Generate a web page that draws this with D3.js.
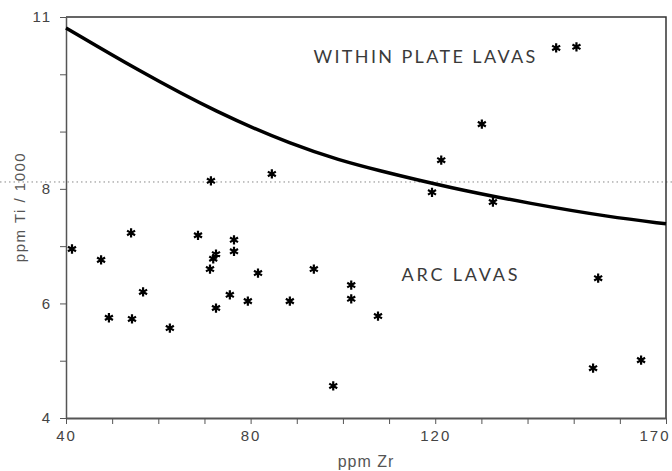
<!DOCTYPE html>
<html>
<head>
<meta charset="utf-8">
<script src="https://cdn.jsdelivr.net/npm/d3@7"></script>
<style>
  body { margin: 0; background: #fff; }
  svg { display: block; }
  .axis path, .axis line { stroke: #555; }
  .axis text { fill: #444; font-family: 'Liberation Sans', Arial, sans-serif; font-size: 15px; letter-spacing: 2px; }
  .label { fill: #555; font-family: 'Liberation Sans', Arial, sans-serif; }
  .field { fill: #3a3a3a; font-family: 'Lato', 'Open Sans', sans-serif; font-size: 18px; }
</style>
</head>
<body>
<div id="chart"></div>
<script>
// Samples
const zr = [41.3, 47.6, 49.3, 54.1, 54.3, 56.7, 62.5, 68.6, 71.4, 72.5, 71.9, 71.2, 76.4, 76.4,
  72.5, 75.5, 79.4, 81.6, 84.6, 88.5, 93.7, 97.9, 101.8, 101.8, 107.6, 119.3, 121.3, 130.1,
  132.5, 146.2, 150.6, 155.3, 154.2, 164.6];
const ti = [6.95, 6.76, 5.75, 7.23, 5.73, 6.2, 5.57, 7.19, 8.14, 6.86, 6.78, 6.6, 7.11, 6.91,
  5.92, 6.15, 6.04, 6.53, 8.26, 6.04, 6.6, 4.56, 6.32, 6.08, 5.78, 7.94, 8.5, 9.13,
  7.77, 10.46, 10.48, 6.44, 4.87, 5.01];

// Discriminant boundary between arc and within plate lavas
const boundaryZr = [40, 55.6, 72.7, 89.6, 99.4, 106.7, 123.6, 140.8, 157.7, 170];
const boundaryTi = [10.81, 10.07, 9.33, 8.75, 8.5, 8.34, 8.01, 7.74, 7.51, 7.39];

const refTi = 8.12; // dotted guide line
const xLabels = [40, 80, 120, 170];
const yLabels = [4, 6, 8, 11];

const margin = { top: 17, right: 6, bottom: 53, left: 66 };
const width = 672 - margin.left - margin.right;
const height = 471 - margin.top - margin.bottom;

const svg = d3.select('#chart')
  .append('svg')
  .attr('width', width + margin.left + margin.right)
  .attr('height', height + margin.top + margin.bottom);

const group = svg.append('g')
  .attr('transform', 'translate(' + margin.left + ',' + margin.top + ')');

const xScale = d3.scaleLinear().domain([40, 170]).range([0, width]);
const yScale = d3.scaleLinear().domain([4, 11]).range([height, 0]);

// dotted guide across the whole picture
group.append('line')
  .attr('x1', -margin.left)
  .attr('x2', width + margin.right)
  .attr('y1', yScale(refTi))
  .attr('y2', yScale(refTi))
  .attr('stroke', '#888')
  .attr('stroke-width', 1)
  .attr('stroke-dasharray', '1.5 3');

// frame (top and right)
group.append('path')
  .attr('d', 'M0,0H' + width + 'V' + height)
  .attr('fill', 'none')
  .attr('stroke', '#333')
  .attr('stroke-width', 1.5);

// axes
const xAxis = d3.axisBottom(xScale)
  .tickValues(d3.range(40, 171, 10))
  .tickSize(6)
  .tickSizeOuter(0)
  .tickPadding(6)
  .tickFormat((d) => (xLabels.includes(d) ? d : ''));

const xAxisGroup = group.append('g')
  .attr('class', 'x-axis axis')
  .attr('transform', 'translate(0,' + height + ')')
  .call(xAxis);
xAxisGroup.select('.domain').attr('stroke-width', 2).attr('stroke', '#777');
xAxisGroup.selectAll('.tick text')
  .filter((d) => d === 170)
  .attr('text-anchor', 'end')
  .attr('dx', 4);

const yAxis = d3.axisLeft(yScale)
  .tickValues(d3.range(4, 12, 1))
  .tickSize(6)
  .tickSizeOuter(0)
  .tickPadding(8)
  .tickFormat((d) => (yLabels.includes(d) ? d : ''));

const yAxisGroup = group.append('g')
  .attr('class', 'y-axis axis')
  .call(yAxis);
yAxisGroup.select('.domain').attr('stroke-width', 1.5).attr('stroke', '#333');

// boundary curve
const boundary = boundaryZr.map((z, i) => ({ zr: z, ti: boundaryTi[i] }));
const line = d3.line()
  .x((d) => xScale(d.zr))
  .y((d) => yScale(d.ti))
  .curve(d3.curveBasis);

group.append('path')
  .datum(boundary)
  .attr('fill', 'none')
  .attr('stroke', '#000')
  .attr('stroke-width', 3.5)
  .attr('d', line);

// samples
const samples = zr.map((z, i) => ({ zr: z, ti: ti[i] }));
const star = d3.symbol().type(d3.symbolAsterisk).size(60);

group.selectAll('.sample')
  .data(samples)
  .enter()
  .append('path')
  .attr('class', 'sample')
  .attr('d', star)
  .attr('transform', (d) => 'translate(' + xScale(d.zr) + ',' + yScale(d.ti) + ')')
  .attr('fill', 'none')
  .attr('stroke', '#000')
  .attr('stroke-width', 2.2);

// field names
group.append('text')
  .attr('class', 'field')
  .attr('x', xScale(93.6))
  .attr('y', yScale(10.2))
  .attr('textLength', 222)
  .attr('lengthAdjust', 'spacing')
  .text('WITHIN PLATE LAVAS');

group.append('text')
  .attr('class', 'field')
  .attr('x', xScale(112.7))
  .attr('y', yScale(6.4))
  .attr('textLength', 116)
  .attr('lengthAdjust', 'spacing')
  .text('ARC LAVAS');

// axis titles
svg.append('text')
  .attr('class', 'label')
  .attr('x', margin.left + width / 2)
  .attr('y', 467)
  .attr('text-anchor', 'middle')
  .attr('font-size', 16)
  .attr('letter-spacing', 1)
  .text('ppm Zr');

svg.append('text')
  .attr('class', 'label')
  .attr('transform', 'translate(25,207) rotate(-90)')
  .attr('text-anchor', 'middle')
  .attr('font-size', 15)
  .attr('letter-spacing', 1.5)
  .text('ppm Ti / 1000');
</script>
</body>
</html>
